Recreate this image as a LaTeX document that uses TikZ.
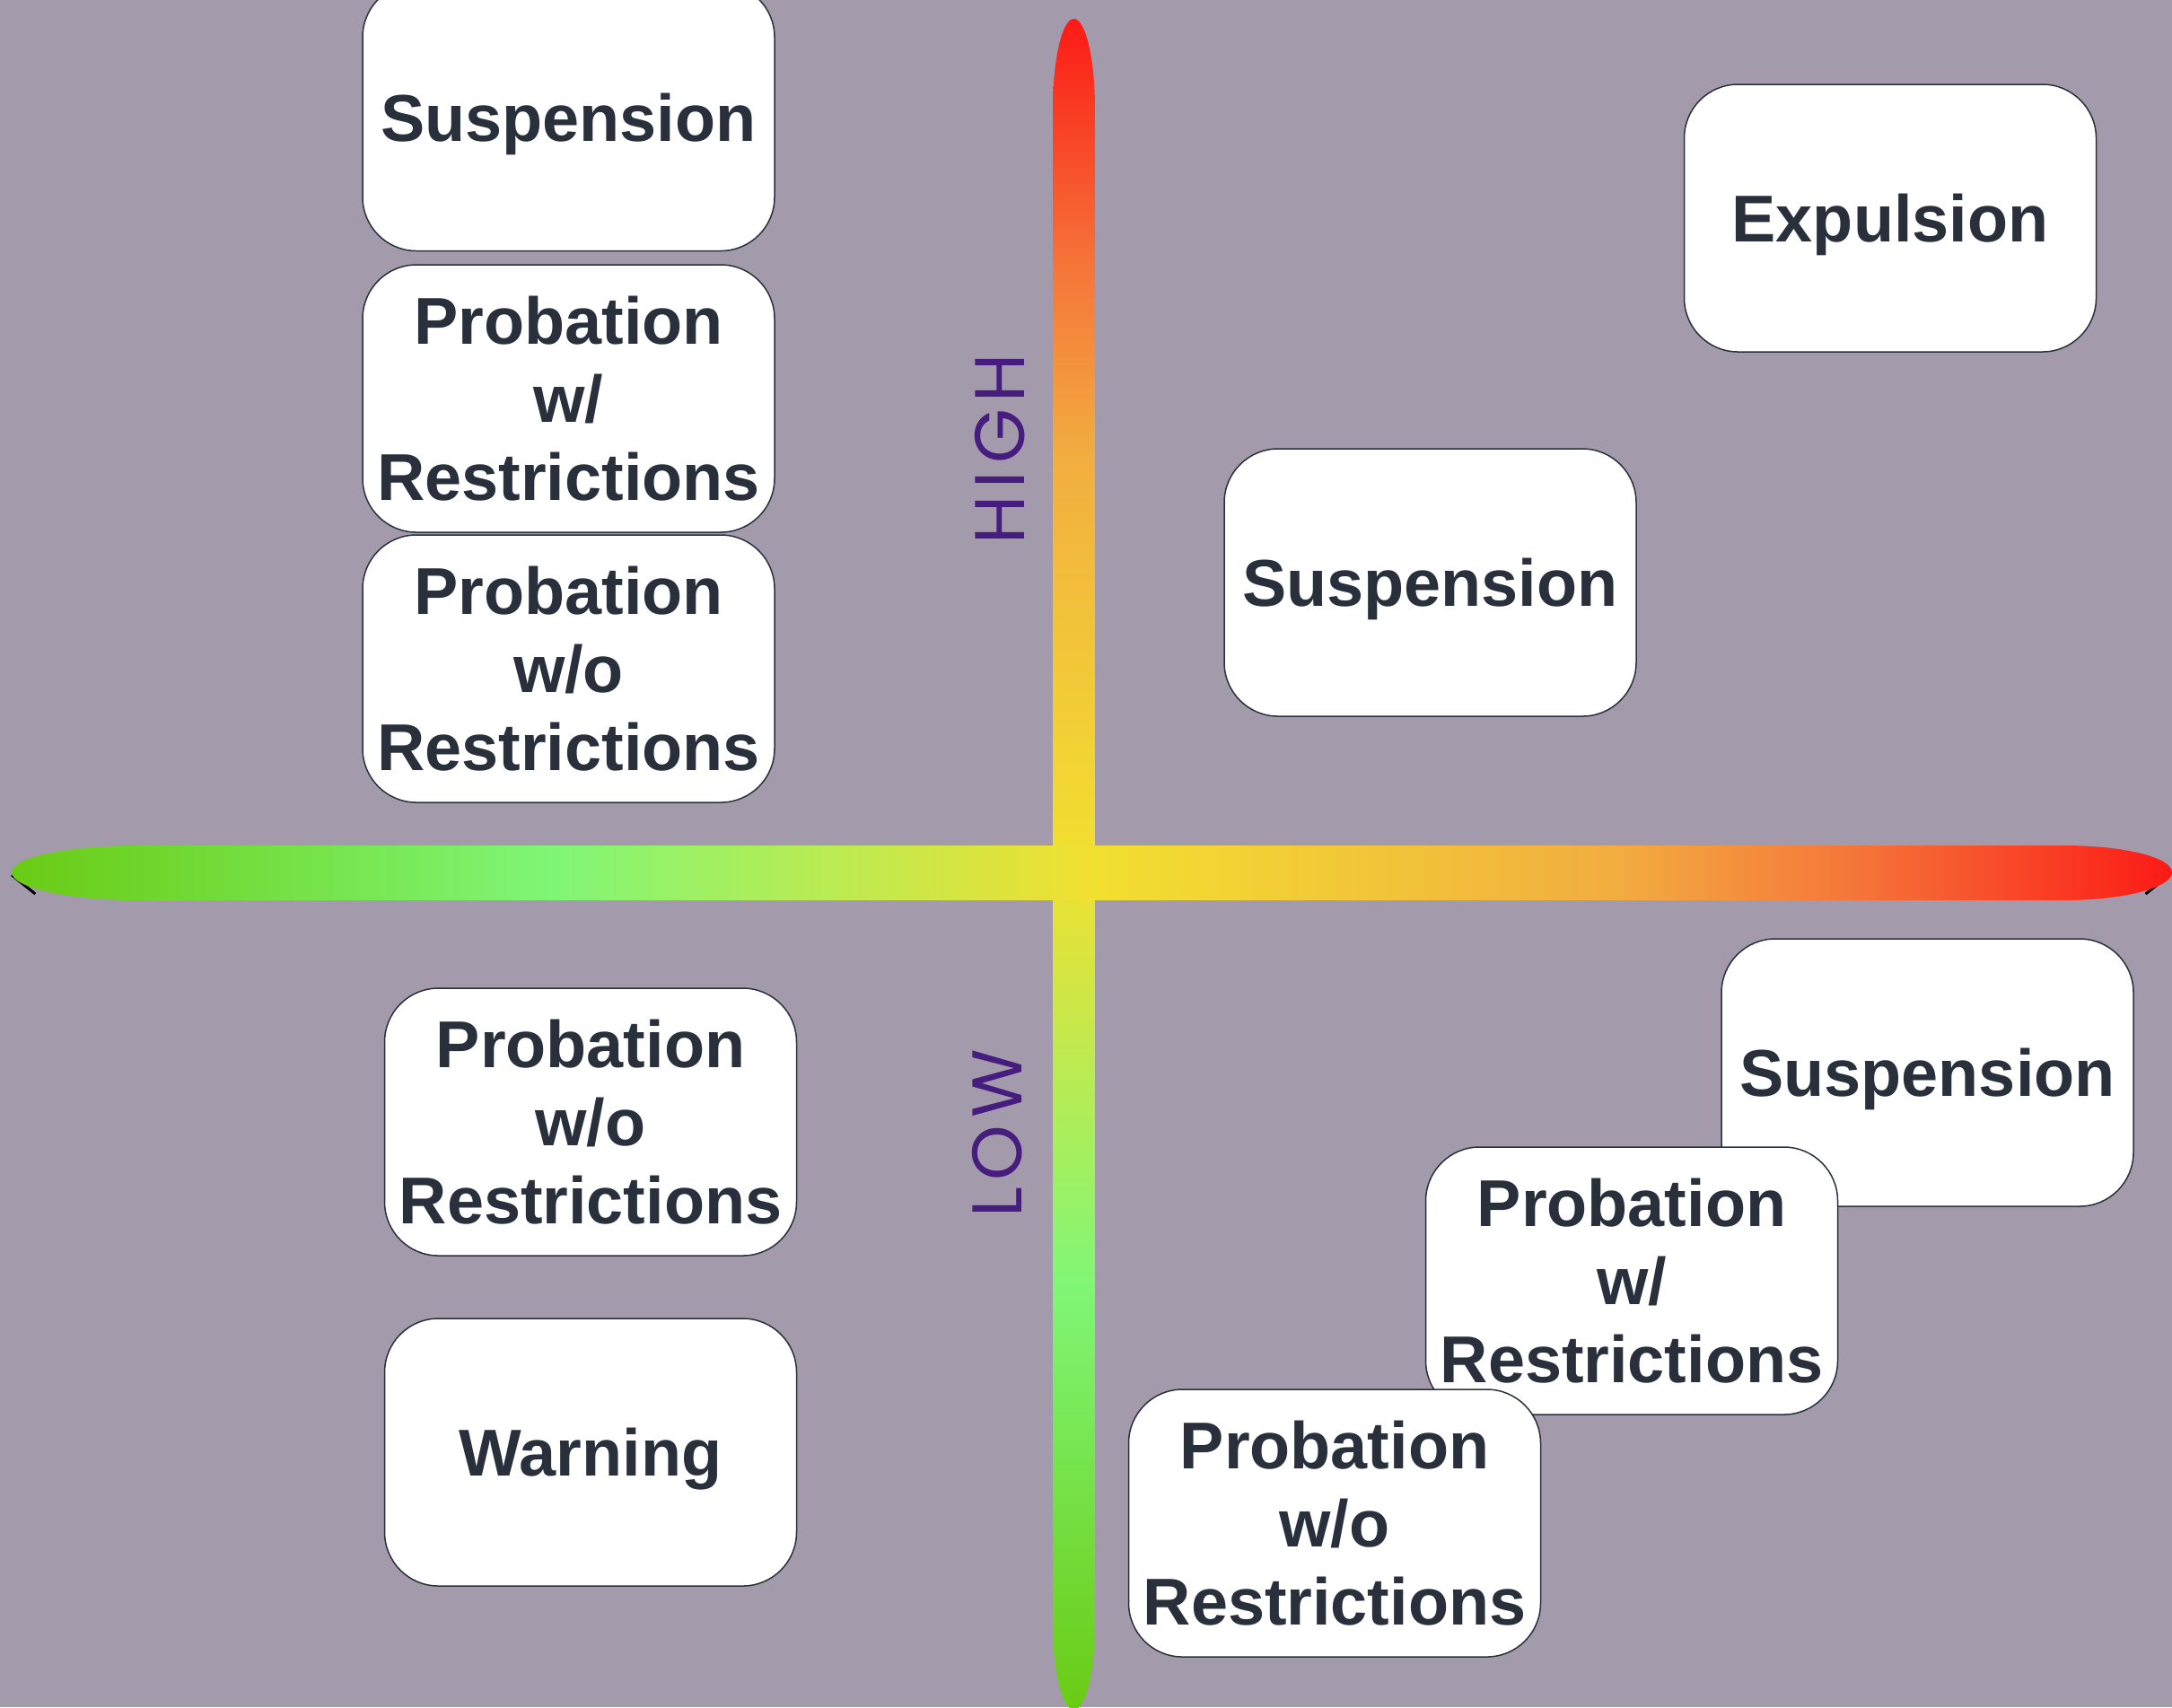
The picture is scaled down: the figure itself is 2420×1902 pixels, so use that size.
\documentclass[tikz,border=0pt]{standalone}
\usepackage{fontspec}
\newfontfamily\boxfont{Liberation Sans}
\newfontfamily\axfont{Poppins}[LetterSpace=10]
\usetikzlibrary{arrows.meta}
\definecolor{bg}{HTML}{A39AAB}
\definecolor{boxline}{HTML}{2A313C}
\definecolor{boxtext}{HTML}{29303B}
\definecolor{axpurple}{HTML}{461C7E}
\definecolor{gA}{HTML}{6ACB14}
\definecolor{gB}{HTML}{80F676}
\definecolor{gC}{HTML}{F2E030}
\definecolor{gD}{HTML}{F2AE40}
\definecolor{gE}{HTML}{F5773A}
\definecolor{gF}{HTML}{FC1A16}
\pgfdeclarehorizontalshading{axisgrad}{100bp}{color(0bp)=(gA); color(25bp)=(gA); color(37.5bp)=(gB); color(50bp)=(gC); color(62bp)=(gD); color(67.5bp)=(gE); color(75bp)=(gF); color(100bp)=(gF)}
\begin{document}
\begin{tikzpicture}[x=0.1mm,y=-0.1mm,
  box/.style={draw=boxline, line width=0.15mm, fill=white, rounded corners=6mm,
    minimum width=45.9mm, minimum height=29.8mm, inner sep=0pt, align=center,
    text=boxtext, font=\boxfont\bfseries\fontsize{21}{24.75}\selectfont},
  oneline/.style={text depth=0pt},
  axlabel/.style={text=axpurple, font=\axfont\fontsize{22.3}{26}\selectfont, rotate=90, inner sep=0pt},
  tipline/.style={line width=0.3mm, black, {Straight Barb[length=2.5mm,width=4mm]}-{Straight Barb[length=2.5mm,width=4mm]}}]
\useasboundingbox (0,0) rectangle (2420,1902);
\fill[bg] (0,0) rectangle (2420,1902);

% vertical axis
\path[shading=axisgrad, shading angle=90]
  (1173,121) .. controls (1173,65.8) and (1183.5,21) .. (1196.5,21)
  .. controls (1209.5,21) and (1220,65.8) .. (1220,121)
  -- (1220,1810) .. controls (1220,1862.5) and (1209.5,1905) .. (1196.5,1905)
  .. controls (1183.5,1905) and (1173,1862.5) .. (1173,1810) -- cycle;

% horizontal axis (arrow line beneath)
\coordinate (lt) at (12,976);
\coordinate (rt) at (2418,976);
\draw[tipline] (lt) -- (rt);
\path[shading=axisgrad]
  (153,942) -- (2300,942)
  .. controls (2366,942) and (2420,955.2) .. (2420,972)
  .. controls (2420,988.8) and (2366,1003) .. (2300,1003)
  -- (153,1003)
  .. controls (75.7,1003) and (13,988.8) .. (13,972)
  .. controls (13,955.2) and (75.7,942) .. (153,942) -- cycle;

% axis labels
\node[axlabel] (high) at (1114.5,500) {HIGH};
\node[axlabel] (low) at (1111,1263) {LOW};

% boxes top-left
\node[box, oneline] (s1) at (633.5,130.5) {Suspension};
\node[box] (pw1) at (633.5,444) {Probation\\w/\\Restrictions};
\node[box] (pwo1) at (633.5,745) {Probation\\w/o\\Restrictions};

% boxes bottom-left
\node[box] (pwo2) at (658,1250) {Probation\\w/o\\Restrictions};
\node[box, oneline] (warn) at (658,1618) {Warning};

% boxes top-right
\node[box, oneline] (exp) at (2106,243) {Expulsion};
\node[box, oneline] (s2) at (1593.5,649) {Suspension};

% boxes bottom-right
\node[box, oneline] (s3) at (2147.5,1195) {Suspension};
\node[box] (pw3) at (1818,1427) {Probation\\w/\\Restrictions};
\node[box] (pwo3) at (1487,1697) {Probation\\w/o\\Restrictions};
\end{tikzpicture}
\end{document}
